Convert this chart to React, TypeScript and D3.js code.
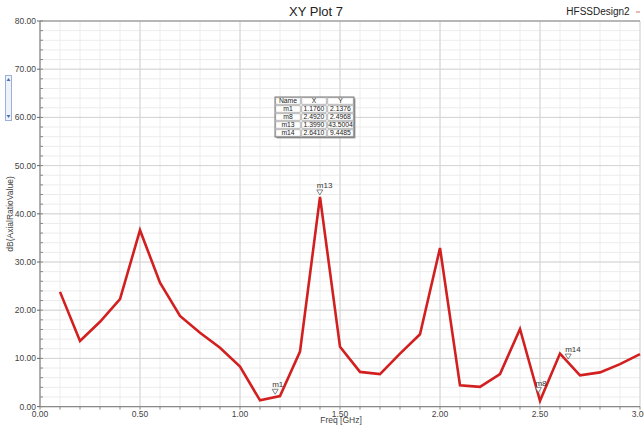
import React from "react";
import * as d3 from "d3";

const freqs = [0.1,0.2,0.3,0.4,0.5,0.6,0.7,0.8,0.9,1.0,1.1,1.2,1.3,1.4,1.5,1.6,1.7,1.8,1.9,2.0,2.1,2.2,2.3,2.4,2.5,2.6,2.7,2.8,2.9,3.0];
const values = [23.8,13.6,17.6,22.3,36.6,25.7,18.8,15.3,12.2,8.3,1.3,2.2,11.4,43.5,12.4,7.2,6.75,11.0,15.0,32.9,4.4,4.1,6.75,16.1,1.2,11.0,6.5,7.1,8.8,10.9];
const markerNames = ["m1","m8","m13","m14"];
const markerX = [1.176,2.492,1.399,2.641];
const markerY = [2.1376,2.4968,43.5004,9.4485];
const markerXText = ["1.1760","2.4920","1.3990","2.6410"];
const markerYText = ["2.1376","2.4968","43.5004","9.4485"];
const xTicks = [0,0.5,1.0,1.5,2.0,2.5,3.0];
const yTicks = [0,10,20,30,40,50,60,70,80];

export default function App() {
  const W = 644, H = 428;
  const x = d3.scaleLinear().domain([0, 3]).range([40, 640]);
  const y = d3.scaleLinear().domain([0, 80]).range([406.6, 21]);
  const minorX = d3.range(0, 30.01, 1).map(v => v / 10);
  const minorY = d3.range(0, 80.01, 2);
  const pts: [number, number][] = freqs.map((f, i) => [f, values[i]]);
  const line = d3.line<[number, number]>().x(d => x(d[0])).y(d => y(d[1]));
  const font = "Liberation Sans, Arial, sans-serif";

  const tX = 275, tY = 97, colW = [26, 26, 27], rowH = 8;
  const rows = [["Name","X","Y"], ...markerNames.map((n,i)=>[n, markerXText[i], markerYText[i]])];

  return (
    <svg width={W} height={H} style={{ position: "absolute", left: 0, top: 0, background: "#fff" }} fontFamily={font}>
      <rect x={0} y={0} width={W} height={H} fill="#fff" />
      {/* minor grid */}
      {minorX.map((v, i) => (
        <line key={"mx"+i} x1={x(v)} x2={x(v)} y1={y(80)} y2={y(0)} stroke="#ececec" strokeWidth={1} />
      ))}
      {minorY.map((v, i) => (
        <line key={"my"+i} x1={x(0)} x2={x(3)} y1={y(v)} y2={y(v)} stroke="#ececec" strokeWidth={1} />
      ))}
      {/* major grid */}
      {xTicks.map((v, i) => (
        <line key={"gx"+i} x1={x(v)} x2={x(v)} y1={y(80)} y2={y(0)} stroke="#d4d4d4" strokeWidth={1} />
      ))}
      {yTicks.map((v, i) => (
        <line key={"gy"+i} x1={x(0)} x2={x(3)} y1={y(v)} y2={y(v)} stroke="#d4d4d4" strokeWidth={1} />
      ))}
      {/* frame */}
      <line x1={x(0)} x2={x(3)} y1={y(80)} y2={y(80)} stroke="#8a8a8a" strokeWidth={1.2} />
      <line x1={x(0)} x2={x(0)} y1={y(80)} y2={y(0)} stroke="#8a8a8a" strokeWidth={1.2} />
      <line x1={x(0)} x2={x(3)} y1={y(0)} y2={y(0)} stroke="#8a8a8a" strokeWidth={1.2} />
      {/* minor ticks */}
      {minorY.map((v, i) => (
        <line key={"ty"+i} x1={x(0)} x2={x(0)+3} y1={y(v)} y2={y(v)} stroke="#888" strokeWidth={1} />
      ))}
      {minorX.map((v, i) => (
        <line key={"tx"+i} x1={x(v)} x2={x(v)} y1={y(0)} y2={y(0)+3} stroke="#888" strokeWidth={1} />
      ))}
      {yTicks.map((v, i) => (
        <g key={"yl"+i}>
          <line x1={x(0)-3} x2={x(0)} y1={y(v)} y2={y(v)} stroke="#666" strokeWidth={1} />
          <text x={x(0)-4} y={y(v)+3} fontSize={8.5} textAnchor="end" fill="#444">{v.toFixed(2)}</text>
        </g>
      ))}
      {xTicks.map((v, i) => (
        <text key={"xl"+i} x={x(v)} y={y(0)+10} fontSize={8.5} textAnchor="middle" fill="#444">{v.toFixed(2)}</text>
      ))}
      <text x={341} y={423} fontSize={8.5} textAnchor="middle" fill="#444">Freq [GHz]</text>
      <text transform="translate(13,214) rotate(-90)" fontSize={8.5} textAnchor="middle" fill="#444">dB(AxialRatioValue)</text>
      <text x={316} y={16} fontSize={13} textAnchor="middle" fill="#222">XY Plot 7</text>
      <text x={598} y={15} fontSize={10} textAnchor="middle" fill="#222">HFSSDesign2</text>
      <line x1={636} x2={640} y1={12} y2={12} stroke="#d07070" strokeWidth={1} />
      {/* scroll widget */}
      <rect x={5.5} y={75.5} width={6} height={45} fill="#eef2fa" stroke="#9db1d6" strokeWidth={1} />
      <path d="M6.5,81 L8.5,78 L10.5,81 Z" fill="#4a6fb5" />
      <path d="M6.5,115 L8.5,118 L10.5,115 Z" fill="#4a6fb5" />
      {/* data */}
      <path d={line(pts) || ""} fill="none" stroke="#d21f1f" strokeWidth={2.6} strokeLinejoin="miter" />
      {/* markers */}
      {markerNames.map((n, i) => {
        const px = x(markerX[i]), py = y(markerY[i]) - 2;
        return (
          <g key={n}>
            <path d={`M${px-3},${py-5} L${px+3},${py-5} L${px},${py} Z`} fill="#fff" stroke="#666" strokeWidth={0.8} />
            <text x={px-3} y={py-7} fontSize={8} fill="#333">{n}</text>
          </g>
        );
      })}
      {/* marker table */}
      <rect x={tX+1.5} y={tY+1.5} width={colW[0]+colW[1]+colW[2]} height={rows.length*rowH} fill="#aaa" />
      <rect x={tX} y={tY} width={colW[0]+colW[1]+colW[2]} height={rows.length*rowH} fill="#fff" stroke="#555" strokeWidth={0.8} />
      {rows.map((r, ri) => {
        let cx = tX;
        return (
          <g key={"r"+ri}>
            {r.map((c, ci) => {
              const x0 = cx; cx += colW[ci];
              return (
                <g key={ci}>
                  <rect x={x0+0.8} y={tY+ri*rowH+0.8} width={colW[ci]-1.6} height={rowH-1.6} fill="none" stroke="#888" strokeWidth={0.6} />
                  <text x={x0+colW[ci]/2} y={tY+ri*rowH+6.3} fontSize={6.8} textAnchor="middle" fill="#222">{c}</text>
                </g>
              );
            })}
          </g>
        );
      })}
    </svg>
  );
}
